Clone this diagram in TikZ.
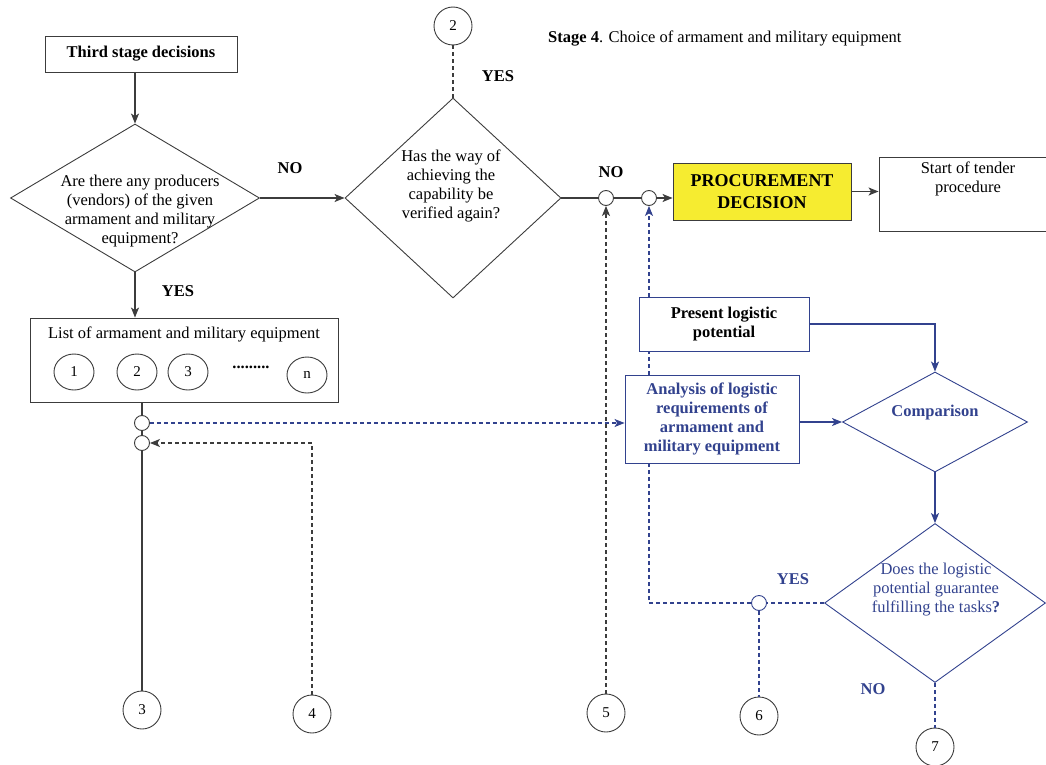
\documentclass[tikz,border=0pt]{standalone}
\usepackage{fontspec}
\setmainfont{Liberation Serif}
\usepackage{tikz}
\usetikzlibrary{shapes.geometric}
\usetikzlibrary{arrows.meta}
\usetikzlibrary{calc}
\definecolor{logblue}{RGB}{50,66,142}
\definecolor{procyellow}{RGB}{246,236,48}
\definecolor{linegray}{RGB}{60,60,60}

\begin{document}
\begin{tikzpicture}[x=1pt,y=-1pt,
    every node/.style={font=\fontsize{16.5}{19}\selectfont,inner sep=0pt},
    box/.style={draw=linegray,line width=0.9pt,fill=white,rectangle},
    dec/.style={draw=linegray,line width=0.9pt,diamond,inner sep=0pt},
    conn/.style={draw=linegray,line width=0.9pt,circle,minimum size=38pt,font=\fontsize{15}{17}\selectfont},
    item/.style={draw=linegray,line width=0.9pt,ellipse,minimum width=40pt,minimum height=36pt,font=\fontsize{15}{17}\selectfont},
    jn/.style={draw=linegray,line width=0.9pt,circle,fill=white,minimum size=15pt},
    arr/.style={linegray,line width=1.1pt,-{Stealth[length=10pt,width=8pt,inset=2.5pt]}},
    dsh/.style={dash pattern=on 4pt off 3pt},
    lbl/.style={font=\fontsize{16.5}{19}\selectfont\bfseries}]
        \useasboundingbox (0,0) rectangle (1046,765);
        % left column
        \node[box,minimum width=192pt,minimum height=36pt,font=\fontsize{16.5}{19}\selectfont\bfseries] (third) at (141,54) {Third stage decisions};
        \node[dec,minimum width=249pt,minimum height=148pt] (q1) at (135,198) {};
        \node[align=center] (q1t) at (140,211) {Are there any producers\\(vendors) of the given\\armament and military\\equipment?};
        \node[box,minimum width=308pt,minimum height=84pt] (list) at (184,360) {};
        \node (listt) at (184,334) {List of armament and military equipment};
        \foreach \t/\x/\y in {1/74/372,2/137/372,3/188/372,n/307/375}
            \node[item] (it\t) at (\x,\y) {\t};
        \node (dots) at (251,367) {\textbf{.........}};
        \node[jn] (j1) at (142,423) {};
        \node[jn] (j2) at (142,443) {};
        \node[conn] (c3) at (142,710) {3};
        \node[conn] (c4) at (312,714) {4};
        % middle decision
        \node[dec,minimum width=216pt,minimum height=200pt] (q2) at (453,198) {};
        \node[align=center] (q2t) at (451,186) {Has the way of\\achieving the\\capability be\\verified again?};
        \node[conn] (c2) at (453,26) {2};
        \node[anchor=west] (title) at (548,39) {\textbf{Stage 4}. Choice of armament and military equipment};
        \node[jn] (j3) at (606,198) {};
        \node[jn] (j4) at (649,198) {};
        \node[box,fill=procyellow,minimum width=178pt,minimum height=57pt,align=center,font=\fontsize{18}{22}\selectfont\bfseries] (proc) at (762,191.5) {PROCUREMENT\\DECISION};
        \node[box,minimum width=181pt,minimum height=74pt] (start) at (969.5,194) {};
        \node[align=center,anchor=north] (startt) at (968,162) {Start of tender\\procedure};
        \node[conn] (c5) at (606,713) {5};
        % logistic part
        \node[box,draw=logblue,minimum width=170pt,minimum height=54pt,align=center,font=\fontsize{16.5}{19}\selectfont\bfseries] (pres) at (724,324) {Present logistic\\potential};
        \node[box,draw=logblue,text=logblue,minimum width=174pt,minimum height=88pt,align=center,font=\fontsize{16.5}{19}\selectfont\bfseries] (ana) at (712,419) {Analysis of logistic\\requirements of\\armament and\\military equipment};
        \node[dec,draw=logblue,minimum width=185pt,minimum height=100pt] (cmp) at (935,422) {};
        \node[lbl,text=logblue] (cmpt) at (935,413) {Comparison};
        \node[dec,draw=logblue,minimum width=221pt,minimum height=159pt] (q3) at (935,603) {};
        \node[text=logblue,align=center] (q3t) at (936,590) {Does the logistic\\potential guarantee\\fulfilling the tasks\textbf{?}};
        \node[jn,draw=logblue] (j5) at (759,603) {};
        \coordinate (yb) at (j4 |- j5);
        \node[conn] (c6) at (759,716) {6};
        \node[conn] (c7) at (935,747) {7};
        % labels
        \node[lbl] at (178,291) {YES};
        \node[lbl] at (290,168) {NO};
        \node[lbl] at (498,76) {YES};
        \node[lbl] at (611,172) {NO};
        \node[lbl,text=logblue] at (793,579) {YES};
        \node[lbl,text=logblue] at (873,689) {NO};
        % connectors
        \draw[arr] (third.south -| q1.north) -- (q1.north);
        \draw[arr] (q1.south) -- (list.north -| q1.south);
        \draw[arr] (q1.east) -- (q2.west);
        \draw[linegray,line width=1.1pt] (list.south -| j1) -- (j1);
        \draw[linegray,line width=1.1pt] (j1) -- (j2);
        \draw[linegray,line width=1.1pt] (j2) -- (c3);
        \draw[arr,dsh] (c4) -- (c4.north |- j2) -- (j2);
        \draw[arr,dsh,logblue] (j1) -- (ana.west |- j1);
        \draw[linegray,line width=1.1pt,dsh] (c2) -- (q2.north);
        \draw[linegray,line width=1.1pt] (q2.east) -- (j3);
        \draw[linegray,line width=1.1pt] (j3) -- (j4);
        \draw[arr] (j4) -- (proc.west |- j4);
        \draw[arr] (proc.east) -- (proc.east -| start.west);
        \draw[arr,dsh] (c5) -- (j3);
        \draw[arr,logblue] (pres.east) -| (cmp.north);
        \draw[arr,logblue] (ana.east |- cmp.west) -- (cmp.west);
        \draw[arr,logblue] (cmp.south) -- (q3.north);
        \draw[logblue,line width=1.1pt,dsh] (q3.west) -- (j5);
        \draw[logblue,line width=1.1pt,dsh] (j5) -- (yb) -- (ana.south -| yb);
        \draw[logblue,line width=1.1pt,dsh] (ana.north -| yb) -- (pres.south -| yb);
        \draw[arr,dsh,logblue] (pres.north -| yb) -- (j4);
        \draw[logblue,line width=1.1pt,dsh] (j5) -- (c6);
        \draw[logblue,line width=1.1pt,dsh] (q3.south) -- (c7);
    \end{tikzpicture}
\end{document}
